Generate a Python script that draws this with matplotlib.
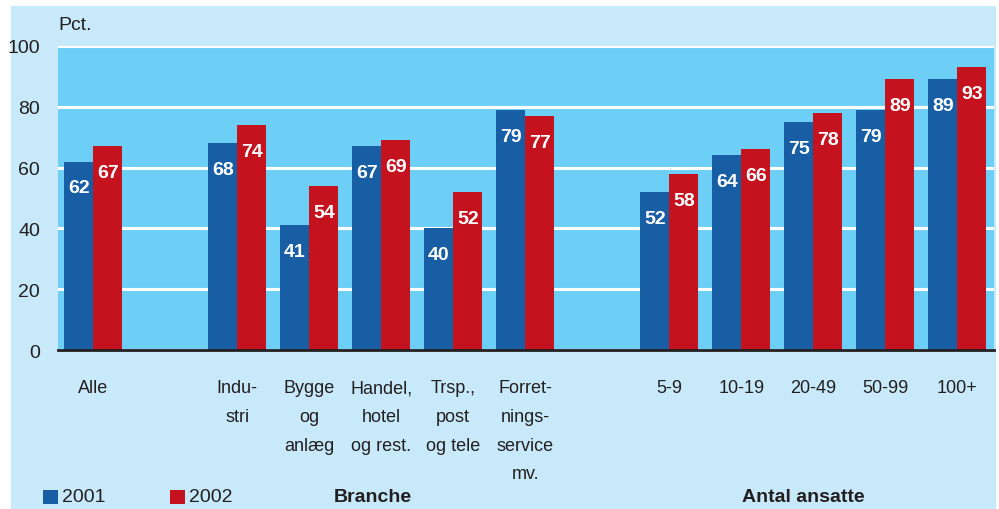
import matplotlib
matplotlib.use("Agg")
import matplotlib.pyplot as plt
from matplotlib.patches import Rectangle
import numpy as np

plt.rcParams['font.family'] = ['Liberation Sans', 'DejaVu Sans']

# Data
categories = ['Alle', 'Indu-\nstri', 'Bygge\nog\nanlæg', 'Handel,\nhotel\nog rest.',
              'Trsp.,\npost\nog tele', 'Forret-\nnings-\nservice\nmv.',
              '5-9', '10-19', '20-49', '50-99', '100+']
slots = [0, 2, 3, 4, 5, 6, 8, 9, 10, 11, 12]
vals_2001 = [62, 68, 41, 67, 40, 79, 52, 64, 75, 79, 89]
vals_2002 = [67, 74, 54, 69, 52, 77, 58, 66, 78, 89, 93]
years = ['2001', '2002']
group_titles = ['Branche', 'Antal ansatte']

c_blue = '#185ea5'
c_red = '#c4121f'
c_plot = '#6dcff5'
c_box = '#c7e9f9'
c_text = '#231f20'

fig = plt.figure(figsize=(9.99, 5.10), dpi=100)
fig.patch.set_facecolor('white')
fig.patches.append(Rectangle((11/999, 0), (996-11)/999, 1-7/510, transform=fig.transFigure,
                             facecolor=c_box, edgecolor='none', zorder=-10))

ax = fig.add_axes([58/999, 1-351/510, (994-58)/999, (351-47)/510])
ax.set_facecolor(c_plot)

x = np.array(slots, dtype=float)
w = 0.405
b1 = ax.bar(x - w/2, vals_2001, w, color=c_blue, zorder=3, label=years[0])
b2 = ax.bar(x + w/2, vals_2002, w, color=c_red, zorder=3, label=years[1])

for bars, vals in [(b1, vals_2001), (b2, vals_2002)]:
    for r, v in zip(bars, vals):
        ax.annotate(str(v), (r.get_x() + r.get_width()/2, v), xytext=(0, -19),
                    textcoords='offset points', ha='center', va='center',
                    color='white', fontsize=14, fontweight='bold', zorder=4)

ax.set_xlim(-0.49, 12.51)
ax.set_ylim(0, 100)
ax.set_yticks([0, 20, 40, 60, 80, 100])
ax.yaxis.grid(True, color='white', linewidth=2.2, zorder=1)
ax.set_axisbelow(True)
for s in ['top', 'right', 'left']:
    ax.spines[s].set_visible(False)
ax.spines['bottom'].set_color(c_text)
ax.spines['bottom'].set_linewidth(2)
ax.spines['bottom'].set_zorder(5)

ax.set_xticks(x)
ax.set_xticklabels(categories, linespacing=1.9, va='top')
ax.tick_params(axis='x', length=0, pad=21, labelsize=13, labelcolor=c_text)
ax.tick_params(axis='y', length=0, pad=13, labelsize=14, labelcolor=c_text)

fig.text(58/999, 1-25/510, 'Pct.', fontsize=14, color=c_text, va='center', ha='left')

# legend
for i, (yr, col) in enumerate(zip(years, [c_blue, c_red])):
    x0 = 43 + i*127
    fig.patches.append(Rectangle((x0/999, 1-505/510), 15/999, 14/510,
                                 transform=fig.transFigure, facecolor=col, edgecolor='none'))
    fig.text((x0 + 19)/999, 1-498/510, yr, fontsize=14, color=c_text, va='center', ha='left')

fig.text(373/999, 1-498/510, group_titles[0], fontsize=14, fontweight='bold',
         color=c_text, va='center', ha='center')
fig.text(803/999, 1-498/510, group_titles[1], fontsize=14, fontweight='bold',
         color=c_text, va='center', ha='center')

fig.savefig('out.png', dpi=100, facecolor=fig.get_facecolor())
